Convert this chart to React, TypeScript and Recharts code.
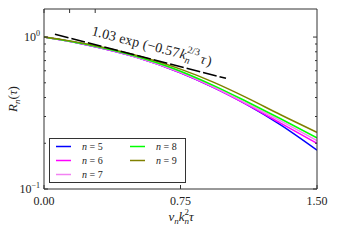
import React from "react";
import { LineChart, Line, XAxis, YAxis, Legend } from "recharts";

// nu_n k_n^2 tau sample points and R_n
const tau = [0, 0.1, 0.25, 0.5, 0.75, 0.93, 1.11, 1.3, 1.5];
const r5 = [1.0, 0.955, 0.881, 0.741, 0.582, 0.467, 0.362, 0.264, 0.18];
const r6 = [1.0, 0.955, 0.881, 0.741, 0.582, 0.467, 0.362, 0.271, 0.1995];
const r7 = [1.0, 0.955, 0.883, 0.743, 0.586, 0.471, 0.367, 0.281, 0.208];
const r8 = [1.0, 0.957, 0.887, 0.75, 0.596, 0.481, 0.378, 0.29, 0.217];
const r9 = [1.0, 0.962, 0.895, 0.762, 0.615, 0.505, 0.401, 0.308, 0.236];

// dashed fit 1.03 exp(-0.57 k^(2/3) tau), end points
const fitTau = [0.06, 1.0];
const fitR = [1.045, 0.535];

const nValues = [5, 6, 7, 8, 9];
const xTicks = [0, 0.75, 1.5];
const xTickLabels = ["0.00", "0.75", "1.50"];
const yTicks = [0.1, 0.2, 0.3, 0.4, 0.5, 0.6, 0.7, 0.8, 0.9, 1];

const colors: Record<string, string> = {
  r5: "#0000ff",
  r6: "#ff00ff",
  r7: "#f282f2",
  r8: "#00ff00",
  r9: "#808000",
};

const seriesValues = [r5, r6, r7, r8, r9];
const rows = tau.map((t, i) => {
  const row: Record<string, number> = { tau: t };
  seriesValues.forEach((vals, j) => {
    row["r" + nValues[j]] = vals[i];
  });
  return row;
});
const fitRows = fitTau.map((t, i) => ({ tau: t, fit: fitR[i] }));

const serif = "'Liberation Serif', 'DejaVu Serif', serif";
const ink = "#333";

const isMajor = (v: number) => v === 1 || v === 0.1;

const LeftTick = ({ x, y, payload }: any) => {
  const v = payload.value;
  return (
    <g>
      <line x1={x} y1={y} x2={x + (isMajor(v) ? 4 : 2)} y2={y} stroke={ink} />
      {isMajor(v) && (
        <text x={x - 4} y={y + 4} textAnchor="end" fontSize={12} fontFamily={serif} fill="#222">
          10
          <tspan dy={-5} fontSize={8}>
            {v === 1 ? "0" : "\u22121"}
          </tspan>
        </text>
      )}
    </g>
  );
};

const RightTick = ({ x, y, payload }: any) => (
  <line x1={x} y1={y} x2={x - (isMajor(payload.value) ? 4 : 2)} y2={y} stroke={ink} />
);

const BottomTick = ({ x, y, payload }: any) => {
  const i = xTicks.indexOf(payload.value);
  return (
    <g>
      <line x1={x} y1={y} x2={x} y2={y - 4} stroke={ink} />
      <text x={x} y={y + 16} textAnchor="middle" fontSize={12} fontFamily={serif} fill="#222">
        {xTickLabels[i]}
      </text>
    </g>
  );
};

const TopTick = ({ x, y }: any) => <line x1={x} y1={y} x2={x} y2={y + 4} stroke={ink} />;

const renderLegend = (props: any) => {
  const items = (props.payload || []).filter((p: any) => p.type !== "none");
  return (
    <svg width={137} height={45} style={{ display: "block" }}>
      <rect x={0.5} y={0.5} width={136} height={44} fill="#fff" stroke={ink} />
      {items.map((p: any, i: number) => {
        const col = Math.floor(i / 3);
        const row = i % 3;
        const lx = 7 + col * 74;
        const ly = 8.5 + row * 14;
        return (
          <g key={p.value}>
            <line x1={lx} y1={ly} x2={lx + 15} y2={ly} stroke={p.color} strokeWidth={1.5} />
            <text x={lx + 26} y={ly + 3.5} fontSize={10} fontFamily={serif} fill="#222">
              <tspan fontStyle="italic">n</tspan>
              {" = " + String(p.value).replace("n = ", "")}
            </text>
          </g>
        );
      })}
    </svg>
  );
};

export default function App() {
  return (
    <div style={{ position: "absolute", left: 0, top: 0, width: 340, height: 240 }}>
      <LineChart width={340} height={240} data={rows} margin={{ top: 8, right: 13, bottom: 21, left: 8 }}>
        <XAxis
          dataKey="tau"
          type="number"
          domain={[0, 1.5]}
          ticks={xTicks}
          interval={0}
          height={30}
          tickSize={0}
          tickMargin={0}
          tickLine={false}
          tick={BottomTick}
          axisLine={{ stroke: ink }}
          allowDataOverflow
        />
        <XAxis
          xAxisId="top"
          orientation="top"
          type="number"
          domain={[0, 1.5]}
          ticks={xTicks}
          interval={0}
          height={1}
          tickSize={0}
          tickMargin={0}
          tickLine={false}
          tick={TopTick}
          axisLine={{ stroke: ink }}
          allowDataOverflow
        />
        <YAxis
          type="number"
          scale="log"
          domain={[0.1, 1.53]}
          ticks={yTicks}
          interval={0}
          width={36}
          tickSize={0}
          tickMargin={0}
          tickLine={false}
          tick={LeftTick}
          axisLine={{ stroke: ink }}
          allowDataOverflow
        />
        <YAxis
          yAxisId="right"
          orientation="right"
          type="number"
          scale="log"
          domain={[0.1, 1.53]}
          ticks={yTicks}
          interval={0}
          width={10}
          tickSize={0}
          tickMargin={0}
          tickLine={false}
          tick={RightTick}
          axisLine={{ stroke: ink }}
          allowDataOverflow
        />
        {nValues.map((n) => (
          <Line
            key={n}
            dataKey={"r" + n}
            name={"n = " + n}
            type="monotone"
            stroke={colors["r" + n]}
            strokeWidth={1.5}
            dot={false}
            isAnimationActive={false}
          />
        ))}
        <Line
          data={fitRows}
          dataKey="fit"
          type="linear"
          stroke="#000"
          strokeWidth={1.5}
          strokeDasharray="14 3"
          dot={false}
          legendType="none"
          isAnimationActive={false}
        />
        <Legend
          layout="horizontal"
          verticalAlign="middle"
          align="center"
          content={renderLegend}
          wrapperStyle={{ position: "absolute", left: 49, top: 138, width: 137, height: 45 }}
        />
      </LineChart>
      <svg
        width={340}
        height={240}
        style={{ position: "absolute", left: 0, top: 0, pointerEvents: "none" }}
        fontFamily={serif}
        fill="#222"
      >
        <text transform="translate(17,99) rotate(-90)" textAnchor="middle" fontSize={13}>
          <tspan fontStyle="italic">R</tspan>
          <tspan dy={3} fontSize={9} fontStyle="italic">n</tspan>
          <tspan dy={-3}>(</tspan>
          <tspan fontStyle="italic">τ</tspan>
          <tspan>)</tspan>
        </text>
        <text x={181} y={221} textAnchor="middle" fontSize={13}>
          <tspan fontStyle="italic">ν</tspan>
          <tspan dy={3} fontSize={9} fontStyle="italic">n</tspan>
          <tspan dy={-3} fontStyle="italic">k</tspan>
          <tspan dy={3} fontSize={9} fontStyle="italic">n</tspan>
          <tspan dy={-9} dx={-4.5} fontSize={9}>2</tspan>
          <tspan dy={6} fontStyle="italic">τ</tspan>
        </text>
        <text transform="translate(91,35) rotate(14.5)" fontSize={14}>
          <tspan>1.03</tspan>
          <tspan dx={4}>exp</tspan>
          <tspan dx={4}>(</tspan>
          <tspan>−0.57</tspan>
          <tspan dx={1} fontStyle="italic">k</tspan>
          <tspan dy={3.5} fontSize={10} fontStyle="italic">n</tspan>
          <tspan dy={-10.5} dx={-5} fontSize={10}>2/3</tspan>
          <tspan dy={7} dx={2.5} fontStyle="italic">τ</tspan>
          <tspan dx={1.5}>)</tspan>
        </text>
      </svg>
    </div>
  );
}
